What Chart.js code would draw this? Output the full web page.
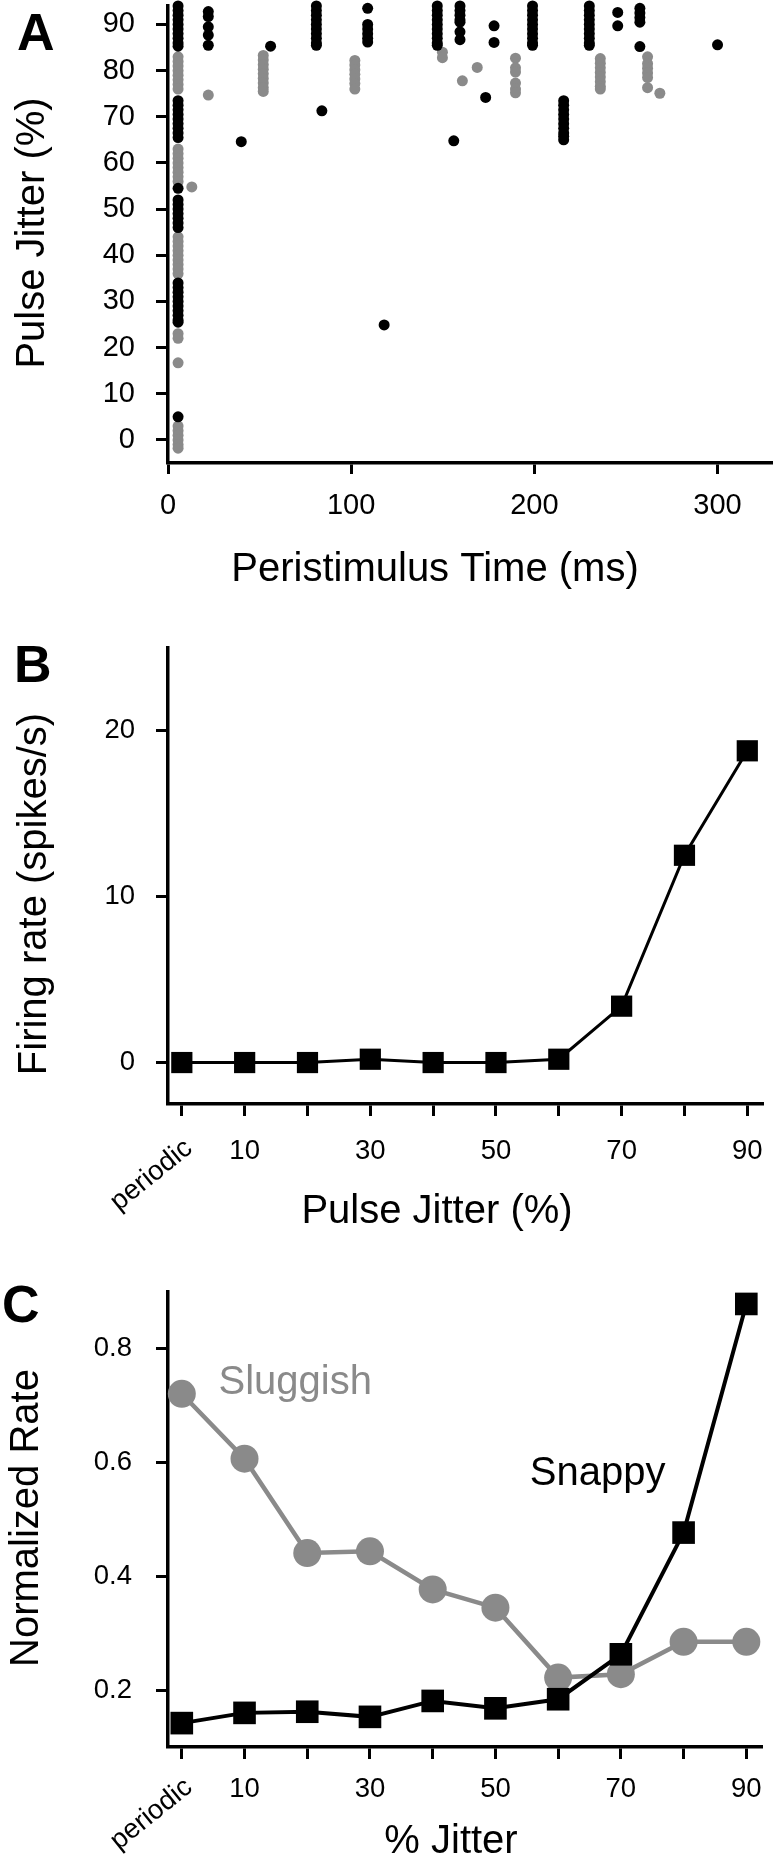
<!DOCTYPE html>
<html>
<head>
<meta charset="utf-8">
<script src="https://cdn.jsdelivr.net/npm/chart.js@4.4.1/dist/chart.umd.min.js"></script>
<style>
html,body{margin:0;padding:0;background:#fff;}
#wrap{position:relative;width:778px;height:1866px;overflow:hidden;background:#fff;}
canvas{position:absolute;left:0;}
</style>
</head>
<body>
<div id="wrap">
<canvas id="cA" width="778" height="620" style="top:0;width:778px;height:620px"></canvas>
<canvas id="cB" width="778" height="640" style="top:620px;width:778px;height:640px"></canvas>
<canvas id="cC" width="778" height="606" style="top:1260px;width:778px;height:606px"></canvas>
</div>
<script>
// ---------- DATA ----------
// Panel A: raster of spikes, [peristimulus time (ms), pulse jitter (%)]
const blackSpikes = [
  [5.5,94],[5.5,93],[5.5,92],[5.5,91],[5.5,90],[5.5,89],[5.5,88],[5.5,87],[5.5,86],[5.5,85.3],
  [5.5,73.5],[5.5,72.5],[5.5,71.5],[5.5,70.5],[5.5,69.5],[5.5,68.5],[5.5,67.5],[5.5,66.5],[5.5,65.5],
  [5.5,54.5],[5.5,52],[5.5,51],[5.5,50],[5.5,49],[5.5,48],[5.5,47],[5.5,46],
  [5.5,34],[5.5,33],[5.5,32],[5.5,31],[5.5,30],[5.5,29],[5.5,28],[5.5,27],[5.5,26],[5.5,25.5],[5.5,5],
  [22,92.8],[22,91.7],[22,89.5],[22,87.7],[22,85.5],
  [40,64.6],[56,85.3],
  [81,94],[81,93],[81,92],[81,91],[81,90],[81,89],[81,88],[81,87],[81,86],[81,85.5],
  [84,71.3],
  [109,93.5],[109,90],[109,89],[109,88],[109,87],[109,86.2],
  [118,24.9],
  [147,94],[147,93],[147,92],[147,91],[147,90],[147,89],[147,88],[147,87],[147,86],[147,85.5],
  [156,64.8],
  [159.4,94],[159.4,93],[159.4,92],[159.4,91],[159.4,90.5],[159.4,88.4],[159.4,86.7],
  [173.4,74.2],[178,89.7],[178,86.1],
  [199,94],[199,93],[199,92],[199,91],[199,90],[199,89],[199,88],[199,87],[199,86],[199,85.5],
  [216,73.5],[216,72.5],[216,71.5],[216,70.5],[216,69.5],[216,68.5],[216,67.5],[216,66.5],[216,65.8],[216,65],
  [230,94],[230,93],[230,92],[230,91],[230,90],[230,89],[230,88],[230,87],[230,86],[230,85.5],
  [245.5,92.6],[245.5,89.7],
  [257.6,93.5],[257.6,92.5],[257.6,91.5],[257.6,90.5],[257.6,85.2],
  [300,85.6]
];
const greySpikes = [
  [5.5,83],[5.5,82],[5.5,81],[5.5,80],[5.5,79],[5.5,78],[5.5,77],[5.5,76],
  [5.5,63],[5.5,62],[5.5,61],[5.5,60],[5.5,59],[5.5,58],[5.5,57],[5.5,56],
  [5.5,44],[5.5,43],[5.5,42],[5.5,41],[5.5,40],[5.5,39],[5.5,38],[5.5,37],[5.5,36],
  [5.5,23],[5.5,22],[5.5,16.7],[5.5,3],[5.5,2],[5.5,1],[5.5,0],[5.5,-1],[5.5,-1.8],
  [13,54.8],[22,74.7],
  [52,83.3],[52,82.3],[52,81.3],[52,80.3],[52,79.3],[52,78.3],[52,77.3],[52,76.3],[52,75.5],
  [102,82.2],[102,81.2],[102,80.2],[102,79.2],[102,78.2],[102,77.2],[102,76],
  [149.8,84],[149.8,82.8],[160.7,77.8],[168.8,80.7],
  [189.7,82.7],[189.7,80.6],[189.7,79.7],[189.7,77.3],[189.7,76],[189.7,75.2],
  [236,82.6],[236,81.6],[236,80.6],[236,79.6],[236,78.6],[236,77.6],[236,76.6],[236,76],
  [261.8,83],[261.8,81.5],[261.8,80.5],[261.8,79.5],[261.8,78.5],[261.8,76.3],
  [268.5,75.1]
];
const timeTicks = [0, 100, 200, 300];
const jitterTicksA = [0, 10, 20, 30, 40, 50, 60, 70, 80, 90];

// Panels B and C: jitter conditions
const jitterLevels = ['periodic', '10', '20', '30', '40', '50', '60', '70', '80', '90'];
const jitterTickLabels = ['periodic', '10', '', '30', '', '50', '', '70', '', '90'];
const firingRate = [0, 0, 0, 0.2, 0, 0, 0.2, 3.4, 12.5, 18.8];
const rateTicksB = [0, 10, 20];
const sluggishRate = [0.721, 0.607, 0.441, 0.444, 0.377, 0.345, 0.222, 0.228, 0.285, 0.285];
const snappyRate = [0.142, 0.160, 0.162, 0.153, 0.181, 0.168, 0.184, 0.263, 0.477, 0.879];
const rateTicksC = [0.2, 0.4, 0.6, 0.8];

// ---------- STYLE ----------
const FONT = "'Liberation Sans', Arial, Helvetica, sans-serif";
const GREY = '#8a8a8a';
Chart.defaults.font.family = FONT;
Chart.defaults.color = '#000';

const textPlugin = {
  id: 'texts',
  afterDraw(chart, args, opts) {
    const ctx = chart.ctx;
    const xs = chart.scales.x, ys = chart.scales.y;
    for (const t of (opts.items || [])) {
      let x = t.x, y = t.y;
      if (t.vx !== undefined) x = xs.getPixelForValue(t.vx);
      if (t.vy !== undefined) y = ys.getPixelForValue(t.vy);
      if (t.belowX !== undefined) y = xs.top + t.belowX;
      x += t.dx || 0; y += t.dy || 0;
      ctx.save();
      ctx.font = (t.weight || 'normal') + ' ' + t.size + 'px ' + FONT;
      ctx.fillStyle = t.color || '#000';
      ctx.textAlign = t.align || 'left';
      ctx.textBaseline = t.baseline || 'alphabetic';
      ctx.translate(x, y);
      if (t.rot) ctx.rotate(t.rot);
      ctx.fillText(t.text, 0, 0);
      ctx.restore();
    }
  }
};

function axisX(o) {
  return {
    type: 'linear', min: o.min, max: o.max,
    afterBuildTicks: s => { s.ticks = o.ticks.map(v => ({value: v})); },
    afterFit: s => { s.height = o.height; s.paddingLeft = 0; s.paddingRight = 0; },
    grid: {display: true, drawOnChartArea: false, drawTicks: true, tickLength: o.tl, tickWidth: 3, tickColor: '#000'},
    border: {display: true, width: 3.5, color: '#000'},
    ticks: {font: {size: o.fs}, color: '#000', padding: o.pad, maxRotation: 0, minRotation: 0, autoSkip: false,
            callback: o.cb}
  };
}
function axisY(o) {
  return {
    type: 'linear', min: o.min, max: o.max,
    afterBuildTicks: s => { s.ticks = o.ticks.map(v => ({value: v})); },
    afterFit: s => { s.width = 168; s.paddingTop = 0; s.paddingBottom = 0; },
    grid: {display: true, drawOnChartArea: false, drawTicks: true, tickLength: o.tl, tickWidth: 3, tickColor: '#000'},
    border: {display: true, width: 3.5, color: '#000'},
    ticks: {font: {size: o.fs}, color: '#000', padding: o.pad, autoSkip: false, callback: o.cb}
  };
}
const common = {
  responsive: false, animation: false, events: [],
  plugins: {legend: {display: false}, tooltip: {enabled: false}}
};

// ---------- PANEL A ----------
new Chart(document.getElementById('cA'), {
  type: 'scatter',
  data: {datasets: [
    {data: blackSpikes.map(([x, y]) => ({x, y})), backgroundColor: '#000', pointRadius: 5.5, pointBorderWidth: 0, clip: false},
    {data: greySpikes.map(([x, y]) => ({x, y})), backgroundColor: GREY, pointRadius: 5.5, pointBorderWidth: 0, clip: false}
  ]},
  options: Object.assign({}, common, {
    layout: {padding: {top: 6, right: 1, left: 0, bottom: 0}},
    plugins: Object.assign({}, common.plugins, {texts: {items: [
      {text: 'A', x: 17, y: 50, size: 52, weight: 'bold'},
      {text: 'Peristimulus Time (ms)', x: 435, y: 581, size: 40, align: 'center'},
      {text: 'Pulse Jitter (%)', x: 44, y: 233, size: 40, align: 'center', rot: -Math.PI / 2}
    ]}}),
    scales: {
      x: axisX({min: 0, max: 330, ticks: timeTicks, height: 157, tl: 11, fs: 29, pad: 15, cb: v => String(v)}),
      y: axisY({min: -5, max: 94, ticks: jitterTicksA, tl: 12, fs: 29, pad: 21, cb: v => String(v)})
    }
  }),
  plugins: [textPlugin]
});

// ---------- PANEL B ----------
new Chart(document.getElementById('cB'), {
  type: 'line',
  data: {datasets: [
    {data: firingRate.map((y, i) => ({x: i, y})), borderColor: '#000', borderWidth: 3, tension: 0,
     pointStyle: 'rect', pointRadius: 15, pointBackgroundColor: '#000', pointBorderWidth: 0, clip: false}
  ]},
  options: Object.assign({}, common, {
    layout: {padding: {top: 28, right: 1, left: 0, bottom: 0}},
    plugins: Object.assign({}, common.plugins, {texts: {items: [
      {text: 'B', x: 14, y: 62, size: 52, weight: 'bold'},
      {text: 'Pulse Jitter (%)', x: 437, y: 603, size: 40, align: 'center'},
      {text: 'Firing rate (spikes/s)', x: 46, y: 274, size: 40, align: 'center', rot: -Math.PI / 2},
      {text: jitterLevels[0], vx: 0, dx: 7, belowX: 41, size: 27.5, align: 'right', baseline: 'middle', rot: -39 * Math.PI / 180}
    ]}}),
    scales: {
      x: axisX({min: -0.22, max: 9.25, ticks: jitterLevels.map((_, i) => i), height: 156, tl: 12, fs: 27.5, pad: 19,
                cb: (v, i) => (i === 0 ? '' : jitterTickLabels[i])}),
      y: axisY({min: -2.5, max: 25, ticks: rateTicksB, tl: 12, fs: 27.5, pad: 21, cb: v => String(v)})
    }
  }),
  plugins: [textPlugin]
});

// ---------- PANEL C ----------
new Chart(document.getElementById('cC'), {
  type: 'line',
  data: {datasets: [
    {label: 'Snappy', data: snappyRate.map((y, i) => ({x: i, y})), borderColor: '#000', borderWidth: 4, tension: 0,
     pointStyle: 'rect', pointRadius: 16, pointBackgroundColor: '#000', pointBorderWidth: 0, clip: false},
    {label: 'Sluggish', data: sluggishRate.map((y, i) => ({x: i, y})), borderColor: GREY, borderWidth: 4.5, tension: 0,
     pointStyle: 'circle', pointRadius: 14, pointBackgroundColor: GREY, pointBorderWidth: 0, clip: false}
  ]},
  options: Object.assign({}, common, {
    layout: {padding: {top: 32, right: 1, left: 0, bottom: 0}},
    plugins: Object.assign({}, common.plugins, {texts: {items: [
      {text: 'C', x: 2, y: 62, size: 52, weight: 'bold'},
      {text: '% Jitter', x: 451, y: 593, size: 40, align: 'center'},
      {text: 'Normalized Rate', x: 38, y: 258, size: 40, align: 'center', rot: -Math.PI / 2},
      {text: 'Sluggish', vx: 0.586, vy: 0.721, size: 40, color: GREY},
      {text: 'Snappy', vx: 5.547, vy: 0.56, size: 40},
      {text: jitterLevels[0], vx: 0, dx: 7, belowX: 37, size: 27.5, align: 'right', baseline: 'middle', rot: -39 * Math.PI / 180}
    ]}}),
    scales: {
      x: axisX({min: -0.22, max: 9.25, ticks: jitterLevels.map((_, i) => i), height: 119, tl: 12, fs: 27.5, pad: 14,
                cb: (v, i) => (i === 0 ? '' : jitterTickLabels[i])}),
      y: axisY({min: 0.1, max: 0.9, ticks: rateTicksC, tl: 12, fs: 27.5, pad: 24, cb: v => v.toFixed(1)})
    }
  }),
  plugins: [textPlugin]
});
</script>
</body>
</html>
